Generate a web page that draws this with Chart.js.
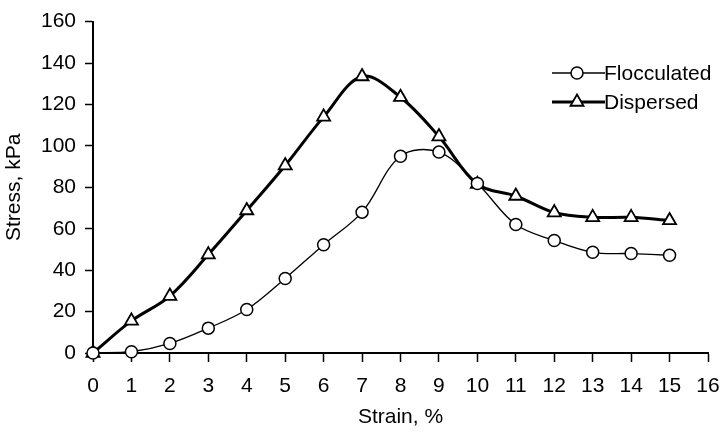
<!DOCTYPE html>
<html>
<head>
<meta charset="utf-8">
<script src="https://cdn.jsdelivr.net/npm/chart.js@4.4.1/dist/chart.umd.min.js"></script>
<style>
  body { margin: 0; background: #fff; }
</style>
</head>
<body>
<canvas id="stressChart" width="721" height="432"></canvas>
<script>
// Stress-strain readings
const strain = [0, 1, 2, 3, 4, 5, 6, 7, 8, 9, 10, 11, 12, 13, 14, 15];
const flocculated = [0, 0.6, 4.6, 12, 21, 36, 52.3, 68, 95, 97, 81.8, 62, 54.3, 48.6, 48, 47.2];
const dispersed = [0, 15.5, 27.5, 47.5, 68.8, 90.5, 114, 133.5, 123.5, 104.5, 81.5, 75.8, 67.8, 65.5, 65.5, 64];
const xTicks = [0, 1, 2, 3, 4, 5, 6, 7, 8, 9, 10, 11, 12, 13, 14, 15, 16];
const yTicks = [0, 20, 40, 60, 80, 100, 120, 140, 160];

const FONT = "'Liberation Sans', Arial, sans-serif";

// legend drawn by hand: line with the marker in the middle, like the original
const lineLegend = {
    id: "lineLegend",
    afterDraw(chart) {
        const ctx = chart.ctx;
        chart.data.datasets.forEach((ds, i) => {
            const y = 73 + i * 29;
            ctx.save();
            ctx.strokeStyle = "#000";
            ctx.lineWidth = ds.borderWidth;
            ctx.beginPath();
            ctx.moveTo(552, y);
            ctx.lineTo(605, y);
            ctx.stroke();
            ctx.fillStyle = "#fff";
            ctx.lineWidth = ds.pointBorderWidth;
            Chart.helpers.drawPoint(ctx, {
                pointStyle: ds.pointStyle,
                radius: ds.pointRadius,
                borderWidth: ds.pointBorderWidth,
                rotation: 0
            }, 577, y);
            ctx.fillStyle = "#000";
            ctx.font = "21px " + FONT;
            ctx.textBaseline = "middle";
            ctx.fillText(ds.label, 604, y + 1);
            ctx.restore();
        });
    }
};

const ctx = document.getElementById("stressChart").getContext("2d");
new Chart(ctx, {
    type: "line",
    data: {
        datasets: [
            {
                label: "Flocculated",
                data: strain.map((s, i) => ({ x: s, y: flocculated[i] })),
                borderColor: "#000",
                borderWidth: 1.3,
                tension: 0.35,
                pointStyle: "circle",
                pointRadius: 6,
                pointBorderWidth: 1.5,
                pointBorderColor: "#000",
                pointBackgroundColor: "#fff",
                clip: false
            },
            {
                label: "Dispersed",
                data: strain.map((s, i) => ({ x: s, y: dispersed[i] })),
                borderColor: "#000",
                borderWidth: 3,
                tension: 0.35,
                pointStyle: "triangle",
                pointRadius: 7.5,
                pointBorderWidth: 1.8,
                pointBorderColor: "#000",
                pointBackgroundColor: "#fff",
                clip: false
            }
        ]
    },
    options: {
        responsive: false,
        animation: false,
        layout: { padding: { top: 16, right: 0, left: 0, bottom: 0 } },
        plugins: {
            legend: { display: false },
            tooltip: { enabled: false }
        },
        scales: {
            x: {
                type: "linear",
                min: 0,
                max: 16,
                afterBuildTicks: (s) => { s.ticks = xTicks.map(v => ({ value: v })); },
                afterFit: (s) => { s.height = 79; s.paddingLeft = 0; s.paddingRight = 13; },
                border: { color: "#000", width: 2 },
                grid: { drawOnChartArea: false, color: "#000", tickLength: 9, tickWidth: 1.5 },
                ticks: { color: "#000", font: { family: FONT, size: 21 }, padding: 12, maxRotation: 0 },
                title: {
                    display: true,
                    text: "Strain, %",
                    color: "#000",
                    font: { family: FONT, size: 21 },
                    padding: { top: 0, bottom: 2 }
                }
            },
            y: {
                min: 0,
                max: 160,
                afterBuildTicks: (s) => { s.ticks = yTicks.map(v => ({ value: v })); },
                afterFit: (s) => { s.width = 93; },
                border: { color: "#000", width: 2 },
                grid: { drawOnChartArea: false, color: "#000", tickLength: 8, tickWidth: 1.5 },
                ticks: { color: "#000", font: { family: FONT, size: 21 }, padding: 9 },
                title: {
                    display: true,
                    text: "Stress, kPa",
                    color: "#000",
                    font: { family: FONT, size: 21 },
                    padding: { top: 2, bottom: 0 }
                }
            }
        }
    },
    plugins: [lineLegend]
});
</script>
</body>
</html>
